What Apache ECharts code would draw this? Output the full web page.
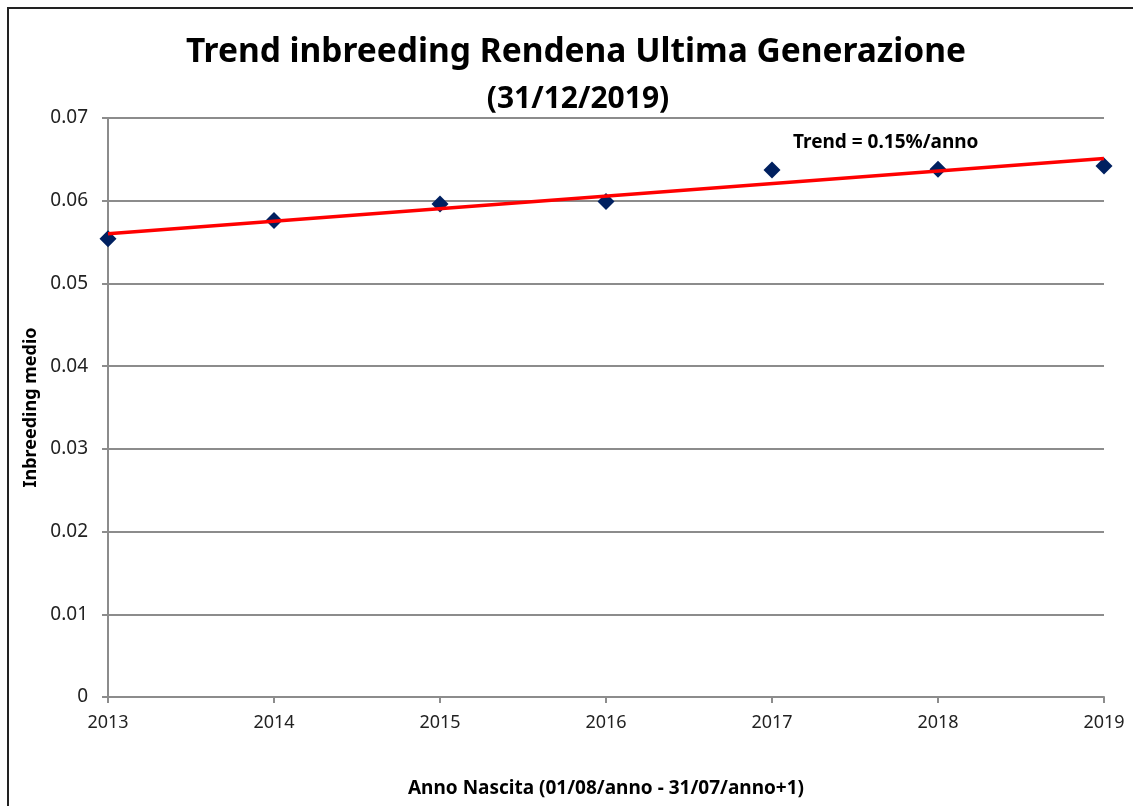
<!DOCTYPE html>
<html>
<head>
<meta charset="utf-8">
<script src="https://cdn.jsdelivr.net/npm/echarts@6/dist/echarts.min.js"></script>
<style>
html,body{margin:0;padding:0;background:#fff;}
#c{width:1133px;height:806px;}
</style>
</head>
<body>
<div id="c"></div>
<script>
const years = [2013, 2014, 2015, 2016, 2017, 2018, 2019];
const inbreeding = [0.0554, 0.0576, 0.0596, 0.0599, 0.0637, 0.0638, 0.0642];
const trendYears = [2013, 2019];
const trendValues = [0.0560, 0.0651];
const yTicks = [0, 0.01, 0.02, 0.03, 0.04, 0.05, 0.06, 0.07];

const FONT = '"Noto Sans", "DejaVu Sans", sans-serif';
const chart = echarts.init(document.getElementById('c'));
chart.setOption({
  backgroundColor: '#fff',
  animation: false,
  title: [
    {text: 'Trend inbreeding Rendena Ultima Generazione', left: 571, top: 30, textAlign: 'center',
     textStyle: {fontFamily: FONT, fontWeight: 'bold', fontSize: 33.5, color: '#000'}},
    {text: '(31/12/2019)', left: 573, top: 79, textAlign: 'center',
     textStyle: {fontFamily: FONT, fontWeight: 'bold', fontSize: 30, color: '#000'}}
  ],
  graphic: [
    {type: 'rect', shape: {x: 8, y: 8, width: 1400, height: 1200},
     style: {fill: 'none', stroke: '#222', lineWidth: 2}, silent: true, z: -1},
    {type: 'text', x: 793, y: 143,
     style: {text: 'Trend = 0.15%/anno', fontFamily: FONT, fontWeight: 'bold', fontSize: 19, fill: '#000', textVerticalAlign: 'middle'}}
  ],
  grid: {left: 108, right: 29, top: 118, bottom: 109, containLabel: false},
  xAxis: {
    type: 'value', min: years[0], max: years[years.length - 1], interval: 1,
    name: 'Anno Nascita (01/08/anno - 31/07/anno+1)', nameLocation: 'middle', nameGap: 82,
    nameTextStyle: {fontFamily: FONT, fontWeight: 'bold', fontSize: 19, color: '#000'},
    axisLine: {show: true, lineStyle: {color: '#8c8c8c', width: 2}},
    axisTick: {show: true, inside: false, length: 6, lineStyle: {color: '#8c8c8c', width: 2}},
    axisLabel: {fontFamily: FONT, fontSize: 18, color: '#222', margin: 17, formatter: v => String(v)},
    splitLine: {show: false}
  },
  yAxis: {
    type: 'value', min: yTicks[0], max: yTicks[yTicks.length - 1], interval: 0.01,
    name: 'Inbreeding medio', nameLocation: 'middle', nameGap: 67, nameRotate: 90,
    nameTextStyle: {fontFamily: FONT, fontWeight: 'bold', fontSize: 18, color: '#000'},
    axisLine: {show: true, lineStyle: {color: '#8c8c8c', width: 2}},
    axisTick: {show: true, inside: false, length: 6, lineStyle: {color: '#8c8c8c', width: 2}},
    axisLabel: {fontFamily: FONT, fontSize: 19, color: '#222', margin: 20,
      formatter: v => v === 0 ? '0' : v.toFixed(2)},
    splitLine: {show: true, lineStyle: {color: '#8c8c8c', width: 2}}
  },
  series: [
    {type: 'line', data: trendYears.map((y, i) => [y, trendValues[i]]), symbol: 'none',
     lineStyle: {color: '#ff0000', width: 3.5}, z: 3},
    {type: 'scatter', data: years.map((y, i) => [y, inbreeding[i]]), symbol: 'diamond',
     symbolSize: [17, 17], itemStyle: {color: '#002060', opacity: 1}, z: 2}
  ]
});
</script>
</body>
</html>
